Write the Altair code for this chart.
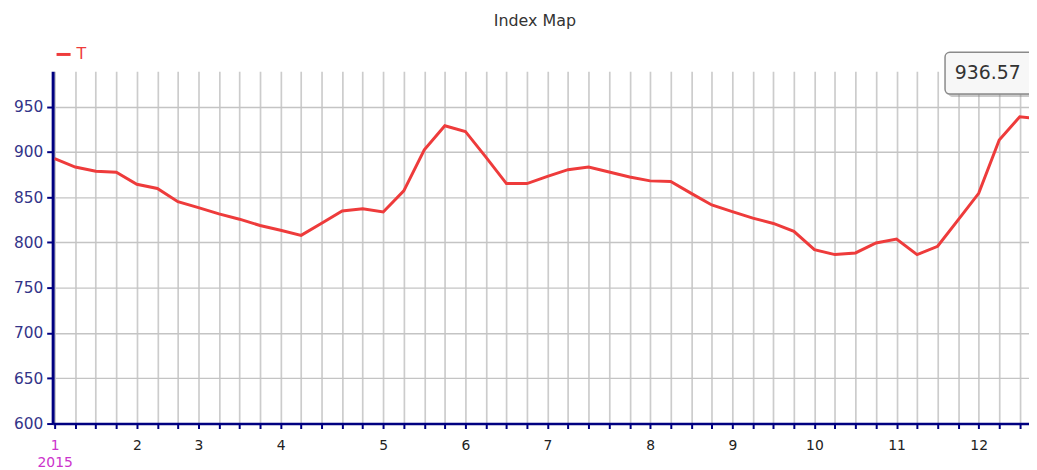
import altair as alt
import pandas as pd

# weekly points (index along the x axis)
week = list(range(49))
values = [892.5, 883.3, 878.6, 877.5, 864.3, 859.6, 845.0, 838.4, 831.5, 825.7,
          818.7, 813.5, 807.8, 821.3, 834.8, 837.3, 833.7, 857.0, 902.3, 928.9,
          922.6, 894.2, 865.0, 865.0, 873.0, 880.4, 883.3, 877.8, 872.3, 868.0,
          867.3, 854.2, 841.4, 834.0, 826.8, 821.0, 812.2, 792.0, 786.6, 788.4,
          799.4, 803.8, 786.6, 795.8, 825.0, 854.2, 913.2, 938.7, 936.57]
series_name = "T"
month_tick_idx = [0, 4, 7, 11, 16, 20, 24, 29, 33, 37, 41, 45]
month_labels = ["1", "2", "3", "4", "5", "6", "7", "8", "9", "10", "11", "12"]
year_label = "2015"
y_ticks = [600, 650, 700, 750, 800, 850, 900, 950]
tooltip_text = "936.57"

df = pd.DataFrame({"week": week, "value": values, "series": series_name})

# label expression built from the month lists
parts = []
for i, lab in zip(month_tick_idx, month_labels):
    if i == month_tick_idx[0]:
        parts.append(f"datum.value == {i} ? ['{lab}', '{year_label}']")
    else:
        parts.append(f"datum.value == {i} ? '{lab}'")
label_expr = " : ".join(parts) + " : ''"

NAVY = "#000080"
RED = "#ee3b3b"
FONT = "DejaVu Sans"

x_enc = alt.X(
    "week:Q",
    scale=alt.Scale(domain=[-0.1, 47.45], nice=False, zero=False),
    axis=alt.Axis(
        values=week, tickCount=200, labelExpr=label_expr, title=None,
        labelOverlap=False, labelFlush=False, grid=True, gridColor="#cccccc",
        gridWidth=1.7, domainColor=NAVY, domainWidth=2.5, tickColor=NAVY,
        tickWidth=2, tickSize=5, labelPadding=10, labelFontSize=14,
        labelFont=FONT, labelLineHeight=17,
        labelColor={"condition": {"test": f"datum.value == {month_tick_idx[0]}",
                                  "value": "#cc33cc"}, "value": "#222222"},
    ),
)
y_enc = alt.Y(
    "value:Q",
    scale=alt.Scale(domain=[600, 989], nice=False, zero=False),
    axis=alt.Axis(
        values=y_ticks, title=None, grid=True, gridColor="#c4c4c4", gridWidth=1.4,
        domainColor=NAVY, domainWidth=3, tickColor=NAVY, tickWidth=2, tickSize=6,
        labelPadding=4, labelFontSize=15.5, labelFont=FONT, labelColor="#333388",
    ),
)

line = alt.Chart(df).mark_line(strokeWidth=3, clip=False).encode(
    x=x_enc, y=y_enc,
    color=alt.Color(
        "series:N",
        scale=alt.Scale(domain=[series_name], range=[RED]),
        legend=alt.Legend(
            title=None, orient="none", legendX=2, legendY=-26,
            symbolType="stroke", symbolStrokeWidth=3, symbolSize=200,
            labelColor=RED, labelFontSize=16, labelFont=FONT, padding=0,
        ),
    ),
)

box_path = ("M-0.9,-0.43 L0.9,-0.43 A0.1,0.1 0 0 1 1,-0.33 L1,0.33 "
            "A0.1,0.1 0 0 1 0.9,0.43 L-0.9,0.43 A0.1,0.1 0 0 1 -1,0.33 "
            "L-1,-0.33 A0.1,0.1 0 0 1 -0.9,-0.43 Z")

last = alt.Chart(df).transform_filter(f"datum.week == {week[-1]}")

shadow = last.mark_point(
    shape=box_path, size=9604, filled=True, fill="#888888", opacity=0.45,
    strokeWidth=0, xOffset=-44, yOffset=-43, clip=False,
).encode(x="week:Q", y="value:Q")

box = last.mark_point(
    shape=box_path, size=9604, filled=True, fill="#f7f7f7", opacity=1,
    stroke="#8a8a8a", strokeWidth=1.5, xOffset=-47, yOffset=-46, clip=False,
).encode(x="week:Q", y="value:Q")

label = last.mark_text(
    text=tooltip_text, fontSize=19, font=FONT, color="#333333",
    dx=-53, dy=-46, baseline="middle", align="center",
).encode(x="week:Q", y="value:Q")

chart = alt.layer(line, shadow, box, label).properties(
    width=984, height=355,
    autosize=alt.AutoSizeParams(type="none"),
    padding={"left": 45, "top": 62, "right": 0, "bottom": 46},
    title=alt.TitleParams("Index Map", fontSize=16, font=FONT, fontWeight="normal",
                          color="#333333", anchor="middle", frame="group",
                          dx=-6, offset=17),
).configure_view(stroke=None)

chart.save("out.html", embed_options={"renderer": "svg", "actions": False})
